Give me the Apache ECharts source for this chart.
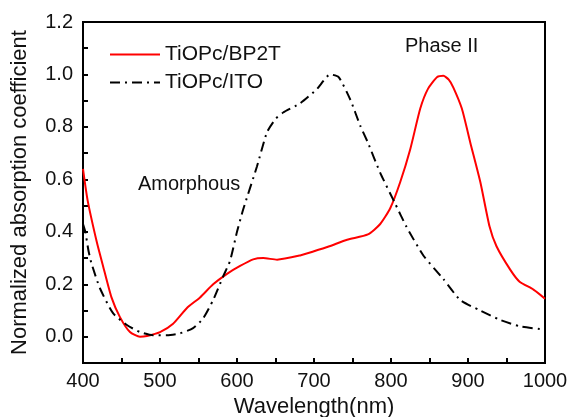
<!DOCTYPE html>
<html>
<head>
<meta charset="utf-8">
<script src="https://cdn.jsdelivr.net/npm/echarts@6/dist/echarts.min.js"></script>
<style>
  html, body { margin: 0; padding: 0; background: #fff; }
  #chart { width: 570px; height: 417px; }
</style>
</head>
<body>
<div id="chart"></div>
<script>
// wavelength (nm) / normalized absorption
const bp2tWave = [400, 406, 418, 426, 437, 448, 461, 474, 483, 500, 517, 535, 552, 569, 587, 604, 621, 634, 652, 682, 699, 720, 743, 770, 786, 799, 812, 825, 838, 848, 860, 868, 875, 881, 892, 903, 916, 928, 937, 955, 967, 985, 1000]
const bp2tAbs = [0.64, 0.52, 0.36, 0.27, 0.15, 0.075, 0.018, 0.0, 0.003, 0.018, 0.05, 0.11, 0.15, 0.2, 0.24, 0.27, 0.295, 0.30, 0.294, 0.31, 0.325, 0.345, 0.37, 0.39, 0.43, 0.49, 0.59, 0.715, 0.87, 0.945, 0.99, 0.995, 0.98, 0.95, 0.87, 0.74, 0.59, 0.42, 0.345, 0.255, 0.21, 0.18, 0.145]

const itoWave = [400, 403, 407, 411, 422, 439, 457, 474, 491, 509, 526, 543, 556, 569, 582, 591, 600, 608, 626, 639, 650, 660, 682, 704, 721, 732, 747, 760, 770, 786, 805, 820, 842, 868, 890, 916, 942, 967, 994, 1000]
const itoAbs = [0.43, 0.40, 0.33, 0.28, 0.185, 0.09, 0.045, 0.018, 0.006, 0.006, 0.013, 0.033, 0.07, 0.14, 0.23, 0.29, 0.40, 0.485, 0.65, 0.78, 0.83, 0.855, 0.89, 0.945, 1.0, 0.99, 0.905, 0.805, 0.74, 0.625, 0.51, 0.42, 0.31, 0.22, 0.14, 0.10, 0.064, 0.04, 0.029, 0.025]

const seriesNames = ['TiOPc/BP2T', 'TiOPc/ITO']
const notes = ['Amorphous', 'Phase II']

const font = 'Liberation Sans, Arial, sans-serif'
const pair = (xs, ys) => xs.map((x, i) => [x, ys[i]])

let chart = echarts.init(document.getElementById('chart'))

const option = {
  animation: false,
  grid: {
    left: 83,
    right: 25,
    top: 22,
    bottom: 54,
    outerBoundsMode: 'none',
    containLabel: false,
    show: true,
    borderColor: '#000',
    borderWidth: 2
  },
  legend: {
    orient: 'vertical',
    left: 104,
    top: 39,
    itemWidth: 50,
    itemHeight: 14,
    itemGap: 7,
    itemStyle: { opacity: 0 },
    textStyle: { fontFamily: font, fontSize: 21, color: '#111' },
    data: seriesNames
  },
  xAxis: {
    type: 'value',
    min: 400,
    max: 1000,
    interval: 50,
    name: 'Wavelength(nm)',
    nameLocation: 'middle',
    nameGap: 33,
    nameTextStyle: { fontFamily: font, fontSize: 22, color: '#111' },
    axisLine: { onZero: false, lineStyle: { color: '#000', width: 2 } },
    axisTick: { inside: true, length: 5, lineStyle: { color: '#000', width: 2 } },
    axisLabel: {
      fontFamily: font,
      fontSize: 20,
      color: '#111',
      margin: 8,
      formatter: v => (v % 100 === 0 ? String(v) : '')
    },
    splitLine: { show: false }
  },
  yAxis: {
    type: 'value',
    min: -0.1,
    max: 1.2,
    interval: 0.1,
    name: 'Normalized absorption coefficient',
    nameLocation: 'middle',
    nameGap: 52,
    nameTextStyle: { fontFamily: font, fontSize: 22, color: '#111' },
    axisLine: { onZero: false, lineStyle: { color: '#000', width: 2 } },
    axisTick: { inside: true, length: 5, lineStyle: { color: '#000', width: 2 } },
    axisLabel: {
      fontFamily: font,
      fontSize: 20,
      color: '#111',
      margin: 10,
      formatter: v => {
        let n = Math.round(v * 10)
        return (n >= 0 && n % 2 === 0) ? (n / 10).toFixed(1) : ''
      }
    },
    splitLine: { show: false }
  },
  series: [
    {
      name: seriesNames[0],
      type: 'line',
      symbol: 'none',
      smooth: 0.2,
      lineStyle: { color: '#ff0000', width: 2 },
      itemStyle: { color: '#ff0000' },
      data: pair(bp2tWave, bp2tAbs)
    },
    {
      name: seriesNames[1],
      type: 'line',
      symbol: 'none',
      smooth: 0.2,
      lineStyle: { color: '#000', width: 2, type: [10, 5, 2, 5] },
      itemStyle: { color: '#000' },
      data: pair(itoWave, itoAbs)
    }
  ],
  graphic: [
    {
      type: 'text',
      left: 138,
      top: 174,
      style: { text: notes[0], font: '20px ' + font, fill: '#111' }
    },
    {
      type: 'text',
      left: 405,
      top: 36,
      style: { text: notes[1], font: '20px ' + font, fill: '#111' }
    }
  ]
}

chart.setOption(option)
</script>
</body>
</html>
